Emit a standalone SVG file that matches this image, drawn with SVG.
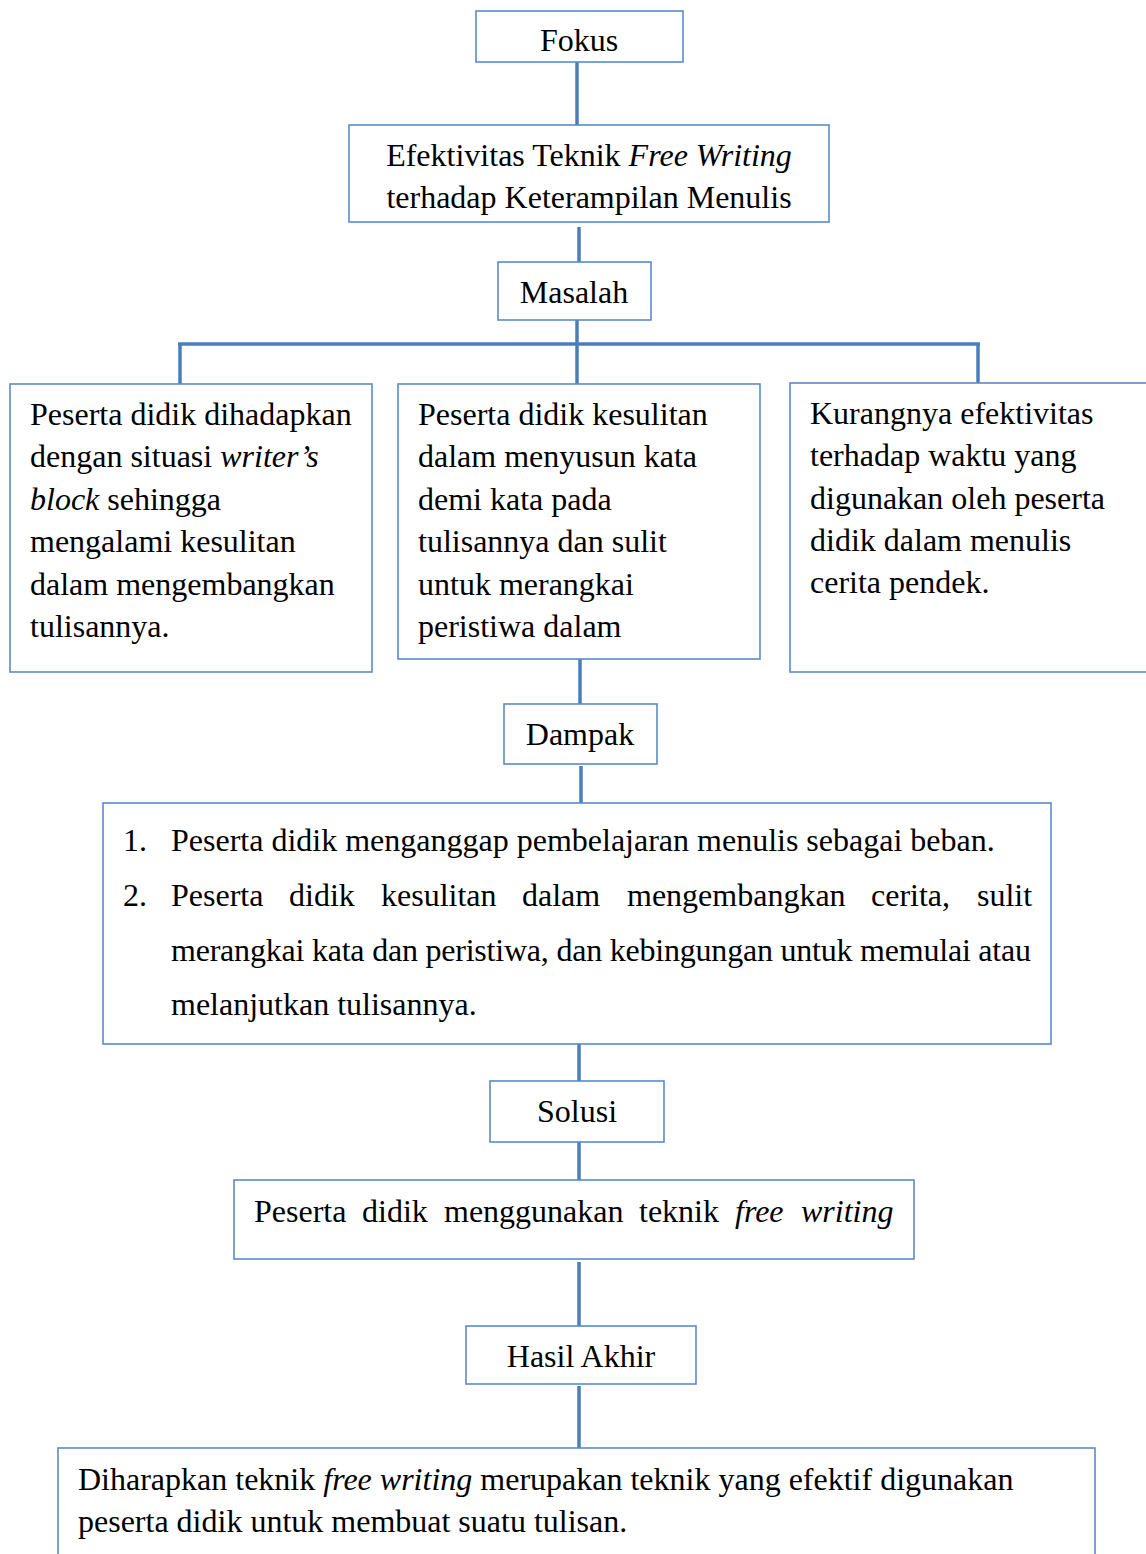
<svg xmlns="http://www.w3.org/2000/svg" width="1146" height="1554" viewBox="0 0 1146 1554">
<style>
.box{fill:#ffffff;stroke:#5b8bc9;stroke-width:1.6}
.t{font-family:"Liberation Serif","Times New Roman",serif;font-size:32px;fill:#000}
.c{text-anchor:middle}
.i{font-style:italic}
.ln{stroke:#4a7ebb;stroke-width:3.5;fill:none}
</style>
<rect width="1146" height="1554" fill="#ffffff"/>
<g id="connectors">
<line class="ln" x1="577" y1="62" x2="577" y2="125"/>
<line class="ln" x1="579" y1="227" x2="579" y2="262"/>
<line class="ln" x1="577" y1="320" x2="577" y2="384"/>
<line class="ln" x1="178" y1="344" x2="980" y2="344"/>
<line class="ln" x1="180" y1="344" x2="180" y2="384"/>
<line class="ln" x1="978" y1="344" x2="978" y2="383"/>
<line class="ln" x1="580" y1="659" x2="580" y2="712"/>
<line class="ln" x1="581" y1="766" x2="581" y2="803"/>
<line class="ln" x1="579" y1="1044" x2="579" y2="1081"/>
<line class="ln" x1="579" y1="1142" x2="579" y2="1180"/>
<line class="ln" x1="579" y1="1262" x2="579" y2="1326"/>
<line class="ln" x1="579" y1="1386" x2="579" y2="1448"/>
</g>
<g id="fokus">
<rect class="box" x="476" y="11" width="207" height="51"/>
<text class="t c" x="579" y="51">Fokus</text>
</g>
<g id="efektivitas">
<rect class="box" x="349" y="125" width="480" height="97"/>
<text class="t c" x="589" y="166">Efektivitas Teknik <tspan class="i">Free Writing</tspan></text>
<text class="t c" x="589" y="208">terhadap Keterampilan Menulis</text>
</g>
<g id="masalah">
<rect class="box" x="498" y="262" width="153" height="58"/>
<text class="t c" x="574" y="303">Masalah</text>
</g>
<g id="masalah1">
<rect class="box" x="10" y="384" width="362" height="288"/>
<text class="t" x="30" y="425">Peserta didik dihadapkan</text>
<text class="t" x="30" y="467">dengan situasi <tspan class="i">writer’s</tspan></text>
<text class="t" x="30" y="510"><tspan class="i">block</tspan> sehingga</text>
<text class="t" x="30" y="552">mengalami kesulitan</text>
<text class="t" x="30" y="595">dalam mengembangkan</text>
<text class="t" x="30" y="637">tulisannya.</text>
</g>
<g id="masalah2">
<rect class="box" x="398" y="384" width="362" height="275"/>
<text class="t" x="418" y="425">Peserta didik kesulitan</text>
<text class="t" x="418" y="467">dalam menyusun kata</text>
<text class="t" x="418" y="510">demi kata pada</text>
<text class="t" x="418" y="552">tulisannya dan sulit</text>
<text class="t" x="418" y="595">untuk merangkai</text>
<text class="t" x="418" y="637">peristiwa dalam</text>
</g>
<g id="masalah3">
<rect class="box" x="790" y="383" width="370" height="289"/>
<text class="t" x="810" y="424">Kurangnya efektivitas</text>
<text class="t" x="810" y="466">terhadap waktu yang</text>
<text class="t" x="810" y="509">digunakan oleh peserta</text>
<text class="t" x="810" y="551">didik dalam menulis</text>
<text class="t" x="810" y="593">cerita pendek.</text>
</g>
<g id="dampak">
<rect class="box" x="504" y="704" width="153" height="60"/>
<text class="t c" x="580" y="745">Dampak</text>
</g>
<g id="dampak-list">
<rect class="box" x="103" y="803" width="948" height="241"/>
<text class="t" x="123" y="851">1.</text>
<text class="t" x="171" y="851">Peserta didik menganggap pembelajaran menulis sebagai beban.</text>
<text class="t" x="123" y="906">2.</text>
<text class="t" y="906"><tspan x="171">Peserta</tspan><tspan x="289">didik</tspan><tspan x="381">kesulitan</tspan><tspan x="522">dalam</tspan><tspan x="627">mengembangkan</tspan><tspan x="871">cerita,</tspan><tspan x="977">sulit</tspan></text>
<text class="t" x="171" y="961" textLength="860" lengthAdjust="spacing">merangkai kata dan peristiwa, dan kebingungan untuk memulai atau</text>
<text class="t" x="171" y="1015">melanjutkan tulisannya.</text>
</g>
<g id="solusi">
<rect class="box" x="490" y="1081" width="174" height="61"/>
<text class="t c" x="577" y="1122">Solusi</text>
</g>
<g id="solusi-isi">
<rect class="box" x="234" y="1180" width="680" height="79"/>
<text class="t" y="1222"><tspan x="254">Peserta</tspan><tspan x="362">didik</tspan><tspan x="444">menggunakan</tspan><tspan x="639">teknik</tspan><tspan x="735" class="i">free</tspan><tspan x="801" class="i">writing</tspan></text>
</g>
<g id="hasil-akhir">
<rect class="box" x="466" y="1326" width="230" height="58"/>
<text class="t c" x="581" y="1367">Hasil Akhir</text>
</g>
<g id="hasil-isi">
<rect class="box" x="58" y="1448" width="1037" height="120"/>
<text class="t" x="78" y="1490">Diharapkan teknik <tspan class="i">free writing</tspan> merupakan teknik yang efektif digunakan</text>
<text class="t" x="78" y="1532">peserta didik untuk membuat suatu tulisan.</text>
</g>
</svg>
